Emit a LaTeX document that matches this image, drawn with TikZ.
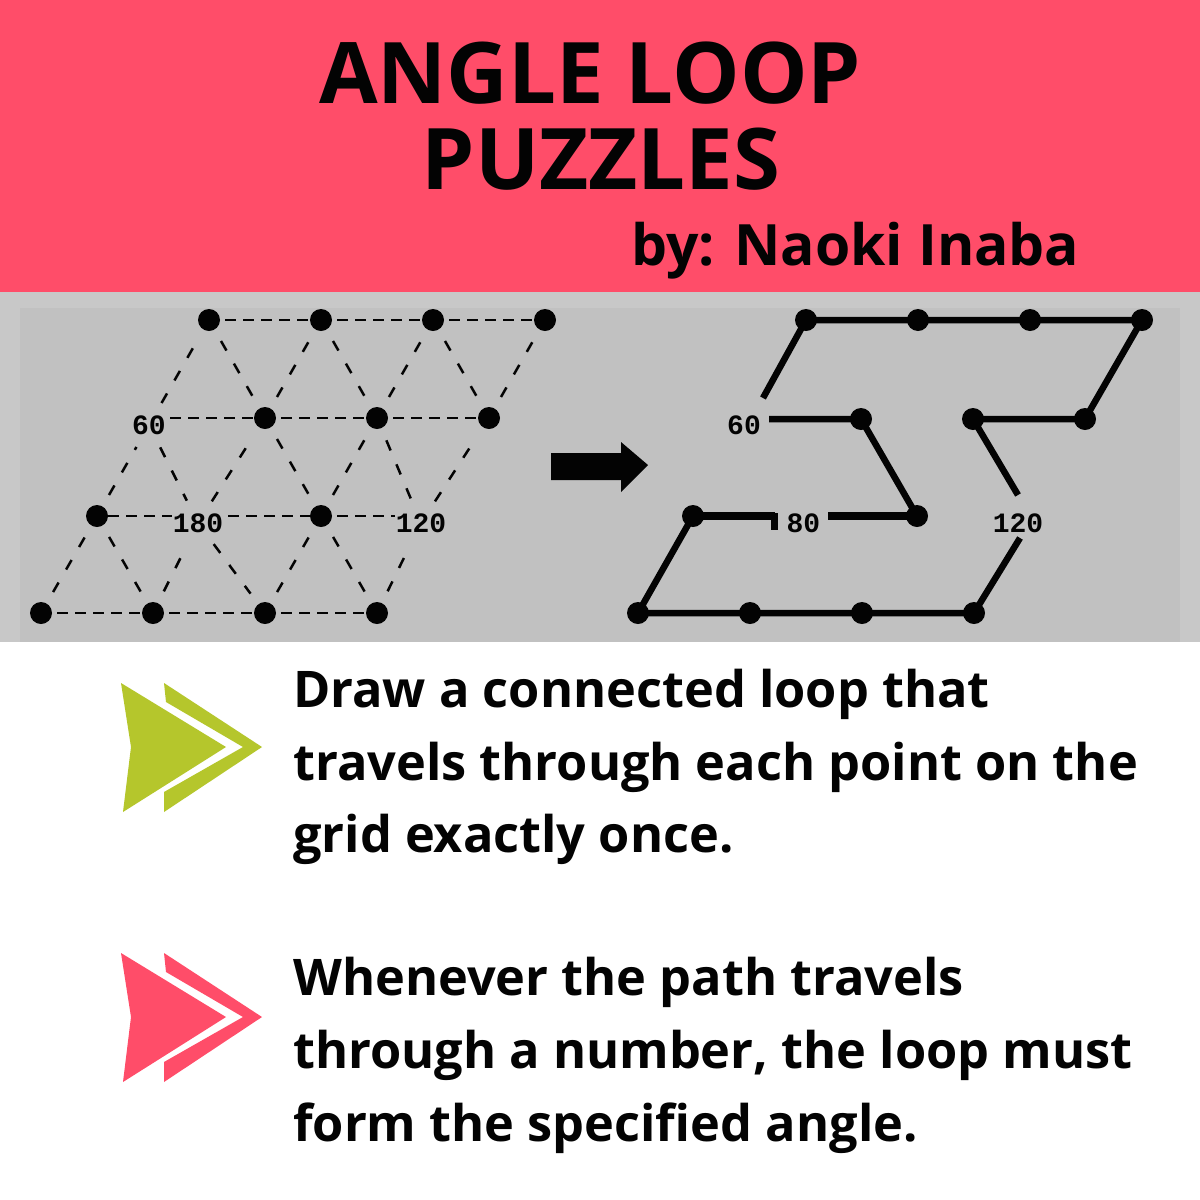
\documentclass[tikz,border=0pt]{standalone}
\usepackage{fontspec}
\setmainfont{Open Sans}[BoldFont={Open Sans Bold}]
\newfontfamily\gridfont{Liberation Mono}[BoldFont={Liberation Mono Bold}]
\definecolor{bandred}{HTML}{FF4D69}
\definecolor{leaf}{HTML}{B5C62C}
\definecolor{panelout}{HTML}{C8C8C8}
\definecolor{panelin}{HTML}{C1C1C1}
\definecolor{ink}{HTML}{030303}
\tikzset{
  dot/.style={circle,fill=ink,draw=none,minimum size=22pt,inner sep=0pt},
  numlabel/.style={inner sep=1pt,font=\gridfont\bfseries\fontsize{28}{28}\selectfont,text=ink},
  grid line/.style={draw=ink,line width=2.5pt,dash pattern=on 11pt off 7pt},
  diag line/.style={draw=ink,line width=2.5pt,dash pattern=on 11pt off 15pt,shorten <=13pt,shorten >=13pt},
  thick path/.style={draw=ink,line width=6.5pt},
  head/.style={inner sep=0pt,font=\bfseries\fontsize{85}{85}\selectfont,text=ink},
  body/.style={inner sep=0pt,font=\bfseries\fontsize{50.5}{50.5}\selectfont,text=ink},
}
\begin{document}
\begin{tikzpicture}[x=1pt,y=-1pt]
\useasboundingbox (0,0) rectangle (1200,1200);
\fill[white] (0,0) rectangle (1200,1200);
\fill[bandred] (0,0) rectangle (1200,292);
\fill[panelout] (0,292) rectangle (1200,642);
\fill[panelin] (20,308) rectangle (1180,642);
% titles
\node[head,anchor=base] (t1) at (590,103) {ANGLE LOOP};
\node[head,anchor=base] (t2) at (601,189) {PUZZLES};
\node[inner sep=0pt,anchor=base west,font=\bfseries\fontsize{57}{57}\selectfont,text=ink] (t3) at (631,265) {by: Naoki Inaba};
% left grid
\foreach \n/\x/\y in {a1/209/320,a2/321/320,a3/433/320,a4/545/320,
  b2/265/418,b3/377/418,b4/489/418,
  c1/97/516,c3/321/516,
  d1/41/613,d2/153/613,d3/265/613,d4/377/613}
  \node[dot] (\n) at (\x,\y) {};
\node[numlabel] (b1) at (149,425) {60};
\node[numlabel] (c2) at (198,523) {180};
\node[numlabel] (c4) at (421,523) {120};
\foreach \p/\q in {a1/a2,a2/a3,a3/a4,b2/b3,b3/b4,d1/d2,d2/d3,d3/d4}
  \path[grid line,shorten <=5pt] (\p) -- (\q);
\path[grid line,shorten <=3pt] (b1.east |- b2) -- (b2);
\path[grid line] (c1) -- (c2.west |- c1);
\path[grid line,shorten <=4pt] (c2.east |- c3) -- (c3);
\path[grid line,shorten <=5pt] (c3) -- (c4.west |- c3);
\foreach \p/\q in {d1/c1,c1/b1,b1/a1,d2/c2,c2/b2,b2/a2,d3/c3,c3/b3,b3/a3,d4/c4,c4/b4,b4/a4,
  a1/b2,b2/c3,c3/d4,a2/b3,b3/c4,a3/b4,b1/c2,c2/d3,c1/d2}
  \path[diag line] (\p) -- (\q);
% block arrow
\fill[ink] (551,453) -- (621,453) -- (621,442) -- (648,465) -- (621,492) -- (621,480) -- (551,480) -- cycle;
% right solution
\foreach \n/\x/\y in {e1/806/320,e2/918/320,e3/1030/320,e4/1142/320,
  f2/861/419,f3/973/419,f4/1085/419,
  g1/693/516,g3/917/516,
  h1/638/613,h2/750/613,h3/862/613,h4/974/613}
  \node[dot] (\n) at (\x,\y) {};
\node[numlabel] (f1) at (744,425) {60};
\node[numlabel] (g2) at (795,523) {\phantom{1}80};
\node[numlabel] (g4) at (1018,523) {120};
\coordinate (s1) at (763,398);
\coordinate (s2) at (769,419);
\coordinate (s3) at (1018,495);
\coordinate (s4) at (1020,538);
\coordinate (s5) at (828,516);
\coordinate (s6) at (775,516);
\draw[thick path,line join=round] (s1) -- (e1.center) -- (e4.center) -- (f4.center) -- (f3.center) -- (s3);
\draw[thick path,line join=round] (s2) -- (f2.center) -- (g3.center) -- (s5);
\draw[thick path,line width=8pt] (g3.center) -- (s5);
\draw[thick path,line width=8pt] (s6) -- (g1.center);
\draw[thick path,line join=round] (g1.center) -- (h1.center) -- (h4.center) -- (s4);
\fill[ink] (771,513) rectangle (778,530);
% icons
\foreach \c/\o in {leaf/0,bandred/270}{
  \begin{scope}[yshift=-\o pt]
  \fill[\c] (121,683) -- (226,747) -- (123,812) -- (131,747) -- cycle;
  \fill[\c] (164,683) -- (262,747) -- (164,812) -- (164,792) -- (243,747) -- (166,702) -- cycle;
  \end{scope}
}
% body text
\node[body,align=left,anchor=north west] (p1) at (293,669) {Draw a connected loop that\\[22pt]travels through each point on the\\[22pt]grid exactly once.};
\node[body,align=left,anchor=north west] (p2) at (293,957) {Whenever the path travels\\[22pt]through a number, the loop must\\[22pt]form the specified angle.};
\end{tikzpicture}
\end{document}
